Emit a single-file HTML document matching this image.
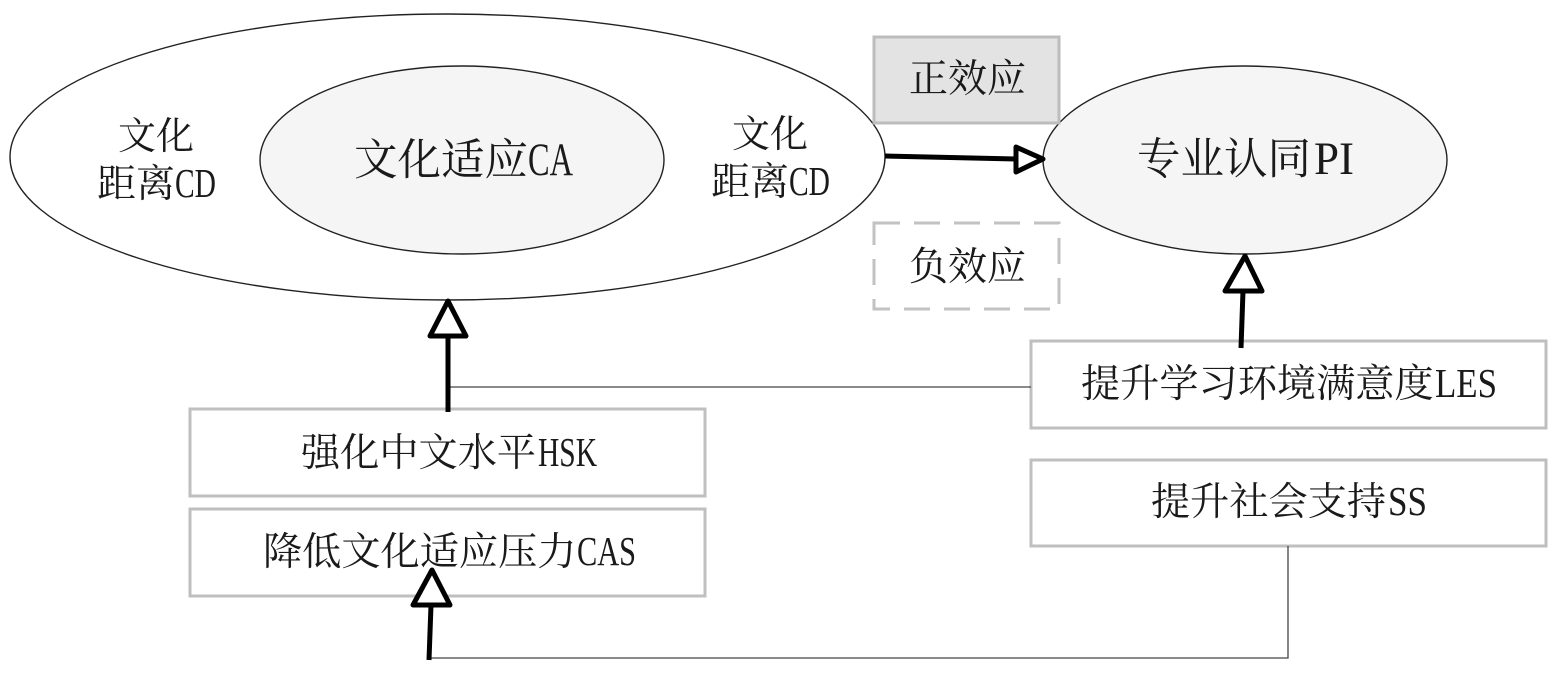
<!DOCTYPE html>
<html>
<head>
<meta charset="utf-8">
<style>
html,body{margin:0;padding:0;background:#fff;width:1557px;height:673px;overflow:hidden}
svg{display:block}
text{fill:#1a1a1a;text-anchor:start}
.c{font-family:"Noto Serif CJK SC","Liberation Serif",serif}
.l{font-family:"Liberation Serif","Noto Serif CJK SC",serif;fill:#2a2a2a}
</style>
</head>
<body>
<svg width="1557" height="673" viewBox="0 0 1557 673" xmlns="http://www.w3.org/2000/svg">
<rect width="1557" height="673" fill="#fff"/>
<ellipse cx="447.5" cy="157" rx="437.5" ry="143" fill="#fff" stroke="#222" stroke-width="1.4"/>
<ellipse cx="462" cy="160" rx="202" ry="94" fill="#f5f5f5" stroke="#222" stroke-width="1.4"/>
<ellipse cx="1245" cy="160" rx="202" ry="94" fill="#f5f5f5" stroke="#222" stroke-width="1.4"/>
<rect x="874" y="37" width="185" height="86" fill="#e3e3e3" stroke="#bdbdbd" stroke-width="3"/>
<rect x="874" y="223" width="185" height="86" fill="#fff" stroke="#c2c2c2" stroke-width="3" stroke-dasharray="26 14"/>
<rect x="190" y="409" width="515" height="87" fill="#fff" stroke="#bfbfbf" stroke-width="3"/>
<rect x="190" y="509" width="515" height="87" fill="#fff" stroke="#bfbfbf" stroke-width="3"/>
<rect x="1031" y="341" width="515" height="87" fill="#fff" stroke="#bfbfbf" stroke-width="3"/>
<rect x="1031" y="460" width="515" height="86" fill="#fff" stroke="#bfbfbf" stroke-width="3"/>
<path d="M448 387H1031M1288 546V658H429" fill="none" stroke="#444" stroke-width="1.3"/>

<g class="c" font-size="38">
<text x="118" y="149">文化</text>
<text x="732" y="147">文化</text>
</g>
<g class="c" font-size="39">
<text x="97" y="197">距离</text>
<text x="711" y="195">距离</text>
<text x="909" y="92">正效应</text>
<text x="909" y="280">负效应</text>
</g>
<g class="c" font-size="39.2">
<text x="301" y="466">强化中文水平</text>
<text x="263" y="565">降低文化适应压力</text>
<text x="1081" y="397">提升学习环境满意度</text>
<text x="1151" y="515">提升社会支持</text>
</g>
<g class="c" font-size="43.5">
<text x="354" y="175">文化适应</text>
<text x="1137" y="174">专业认同</text>
</g>
<g class="l" font-size="41">
<text x="175" y="197" textLength="41" lengthAdjust="spacingAndGlyphs">CD</text>
<text x="789" y="195" textLength="41" lengthAdjust="spacingAndGlyphs">CD</text>
<text x="538" y="466" textLength="59" lengthAdjust="spacingAndGlyphs">HSK</text>
<text x="577" y="565" textLength="59" lengthAdjust="spacingAndGlyphs">CAS</text>
<text x="1435" y="397" textLength="62" lengthAdjust="spacingAndGlyphs">LES</text>
<text x="1388" y="515" textLength="39" lengthAdjust="spacingAndGlyphs">SS</text>
</g>
<g class="l" font-size="47">
<text x="528" y="175" textLength="45" lengthAdjust="spacingAndGlyphs">CA</text>
<text x="1314" y="174" textLength="40" lengthAdjust="spacingAndGlyphs">PI</text>
</g>

<path d="M885 156L1016 159M448 336V412M1241 348L1243 291M429 660L431 605" fill="none" stroke="#000" stroke-width="5"/>
<g fill="#fff" stroke="#000" stroke-width="5" stroke-linejoin="round">
<path d="M1016 147L1043 159L1016 172Z"/>
<path d="M448 301L466 336H430Z"/>
<path d="M1245 256L1262 291H1225Z"/>
<path d="M432 570L450 605H413Z"/>
</g>
</svg>
</body>
</html>
